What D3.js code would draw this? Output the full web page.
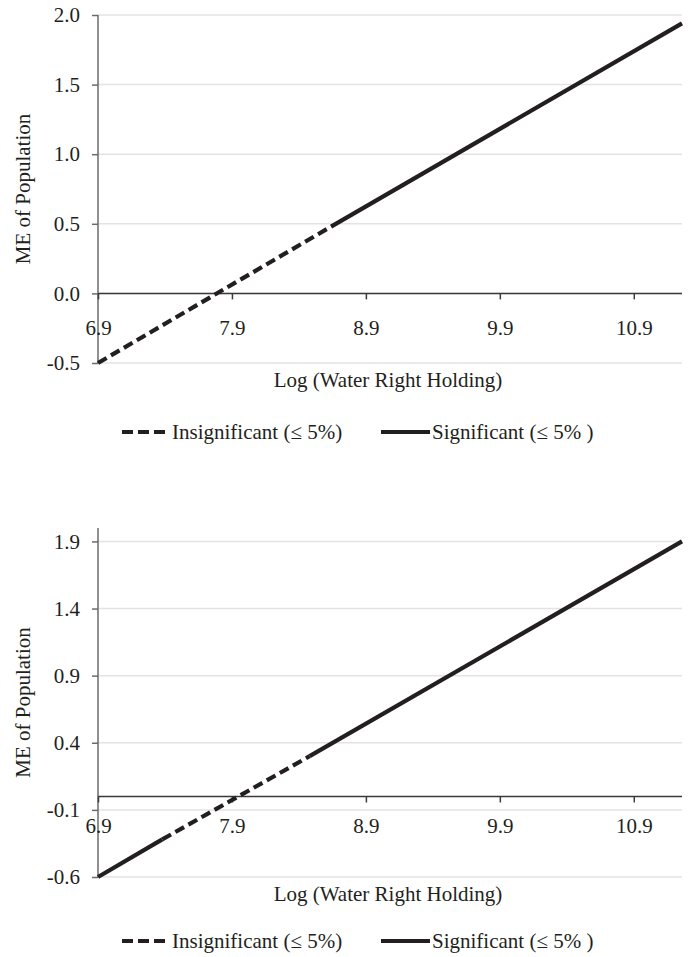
<!DOCTYPE html>
<html>
<head>
<meta charset="utf-8">
<script src="https://cdn.jsdelivr.net/npm/d3@7"></script>
<style>
  html, body { margin: 0; padding: 0; background: #fff; }
  svg { display: block; }
  svg text { font-family: "Liberation Serif", "Times New Roman", Times, Tinos, "DejaVu Serif", "Noto Serif", serif !important; fill: #231f20; }
</style>
</head>
<body>
<svg id="chart" width="689" height="957"></svg>
<script>
// shared x axis
const xTicks = [6.9, 7.9, 8.9, 9.9, 10.9];
const xDomain = [6.9, 11.26];

// top panel
const topYTicks = [-0.5, 0.0, 0.5, 1.0, 1.5, 2.0];
const topYDomain = [-0.5, 2.0];
const topInsigX = [6.9, 8.64];
const topInsigY = [-0.5, 0.48];
const topSigX = [8.64, 11.26];
const topSigY = [0.48, 1.94];

// bottom panel
const botYTicks = [-0.6, -0.1, 0.4, 0.9, 1.4, 1.9];
const botYDomain = [-0.6, 2.0];
const botSigAX = [6.9, 7.38];
const botSigAY = [-0.6, -0.32];
const botInsigX = [7.38, 8.48];
const botInsigY = [-0.32, 0.30];
const botSigBX = [8.48, 11.26];
const botSigBY = [0.30, 1.90];

const yTitle = 'ME of Population';
const xTitle = 'Log (Water Right Holding)';
const legendInsig = 'Insignificant (\u2264 5%)';
const legendSig = 'Significant (\u2264 5% )';

const INK = '#231f20';
const DASH = '10,5';
const FONT = 21;
const SERIF = '"Liberation Serif", "Times New Roman", Times, Tinos, "DejaVu Serif", "Noto Serif", serif';

const svg = d3.select('#chart');
const left = 98, right = 682;

function pts(xs, ys) { return xs.map((x, i) => [x, ys[i]]); }

function drawPanel(cfg) {
  const g = svg.append('g').attr('font-family', SERIF);
  const x = d3.scaleLinear().domain(xDomain).range([left, right]);
  const y = d3.scaleLinear().domain(cfg.yDomain).range([cfg.bottom, cfg.top]);

  // gridlines
  g.append('g').selectAll('line').data(cfg.yTicks).join('line')
    .attr('x1', left).attr('x2', right)
    .attr('y1', d => y(d)).attr('y2', d => y(d))
    .attr('stroke', '#e3e3e3').attr('stroke-width', 1.5);

  // y axis
  const ya = g.append('g').attr('transform', `translate(${left},0)`)
    .call(d3.axisLeft(y).tickValues(cfg.yTicks).tickSize(6).tickPadding(12)
      .tickFormat(d => d.toFixed(1)));
  ya.attr('font-family', SERIF).attr('font-size', FONT);
  ya.select('.domain').attr('stroke', '#6b6b6b').attr('stroke-width', 1.5)
    .attr('d', `M0,${y(cfg.yDomain[1])}V${y(cfg.yDomain[0])}`);
  ya.selectAll('.tick line').attr('stroke', '#6b6b6b').attr('stroke-width', 1.5);
  ya.selectAll('.tick text').attr('fill', INK);

  // x axis sits on zero, labels hang below
  const y0 = y(0);
  const xa = g.append('g').attr('transform', `translate(0,${y0})`)
    .call(d3.axisBottom(x).tickValues(xTicks).tickSize(6).tickFormat(d => d.toFixed(1)));
  xa.attr('font-family', SERIF).attr('font-size', FONT);
  xa.select('.domain').attr('stroke', '#3a3a3a').attr('stroke-width', 1.5)
    .attr('d', `M${left},0H${right}`);
  xa.selectAll('.tick line').attr('stroke', '#3a3a3a').attr('stroke-width', 1.5);
  xa.selectAll('.tick text').attr('fill', INK)
    .attr('dy', null).attr('y', cfg.xLabelY);

  // series
  const line = d3.line().x(d => x(d[0])).y(d => y(d[1]));
  cfg.segments.forEach(s => {
    g.append('path').attr('d', line(s.points))
      .attr('fill', 'none').attr('stroke', INK).attr('stroke-width', 4.2)
      .attr('stroke-dasharray', s.dashed ? DASH : null);
  });

  // titles
  g.append('text')
    .attr('transform', `translate(30,${(cfg.top + cfg.bottom) / 2}) rotate(-90)`)
    .attr('text-anchor', 'middle').attr('font-size', FONT).text(yTitle);
  g.append('text').attr('x', (left + right) / 2 - 2).attr('y', cfg.bottom + 24)
    .attr('text-anchor', 'middle').attr('font-size', FONT).text(xTitle);

  // legend
  const ly = cfg.legendY;
  const lg = g.append('g');
  lg.append('line').attr('x1', 122).attr('x2', 169).attr('y1', ly).attr('y2', ly)
    .attr('stroke', INK).attr('stroke-width', 4.2).attr('stroke-dasharray', '11,5');
  lg.append('text').attr('x', 172).attr('y', ly + 7).attr('font-size', FONT).text(legendInsig);
  lg.append('line').attr('x1', 381).attr('x2', 430).attr('y1', ly).attr('y2', ly)
    .attr('stroke', INK).attr('stroke-width', 4.2);
  lg.append('text').attr('x', 432).attr('y', ly + 7).attr('font-size', FONT).text(legendSig);
}

drawPanel({
  top: 15, bottom: 363, yDomain: topYDomain, yTicks: topYTicks,
  xLabelY: 42, legendY: 432,
  segments: [
    { points: pts(topInsigX, topInsigY), dashed: true },
    { points: pts(topSigX, topSigY), dashed: false }
  ]
});

drawPanel({
  top: 528, bottom: 877, yDomain: botYDomain, yTicks: botYTicks,
  xLabelY: 37, legendY: 941,
  segments: [
    { points: pts(botSigAX, botSigAY), dashed: false },
    { points: pts(botInsigX, botInsigY), dashed: true },
    { points: pts(botSigBX, botSigBY), dashed: false }
  ]
});
</script>
</body>
</html>
